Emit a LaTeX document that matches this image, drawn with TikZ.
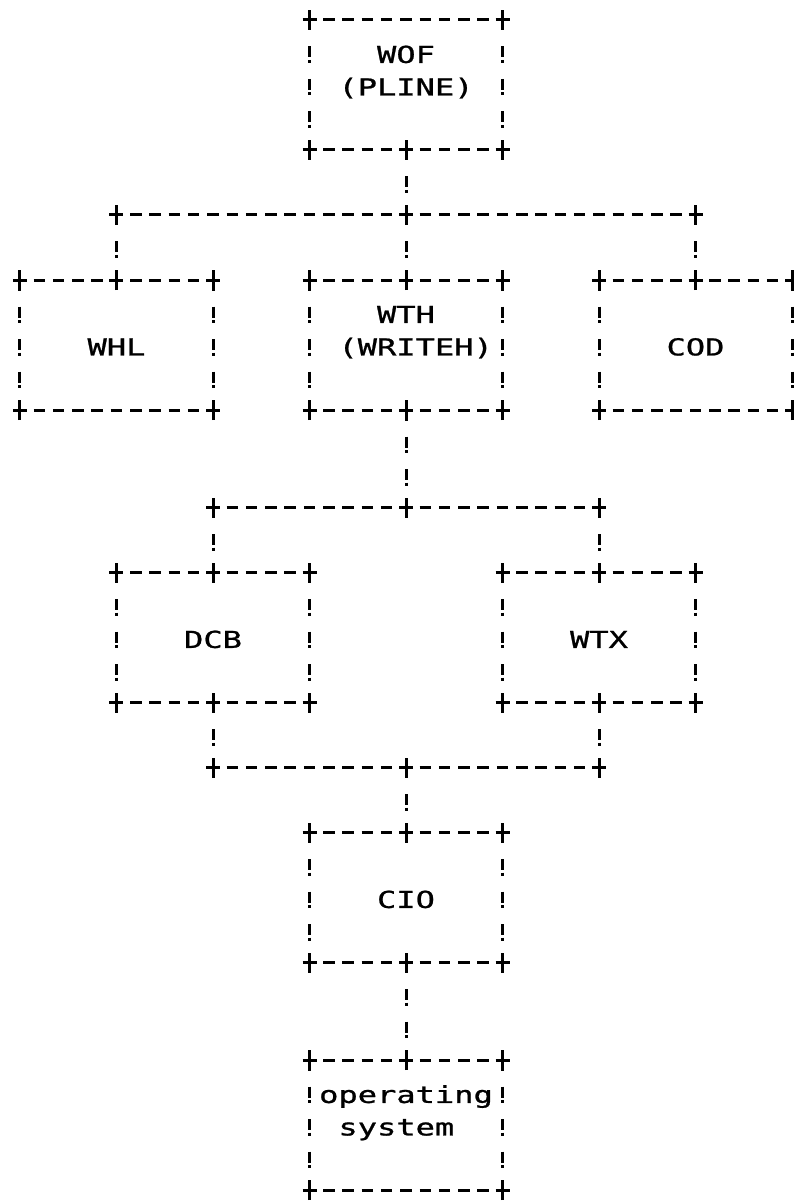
\documentclass[tikz,border=0pt]{standalone}
\usepackage{fontspec}
\newfontfamily\asciimono[FakeStretch=1.376, FakeBold=1]{DejaVu Sans Mono}
\tikzset{
  box/.style={rectangle, minimum width=193pt, minimum height=130pt, inner sep=0pt, outer sep=0pt, draw=none},
  hl/.style={line width=3pt, line cap=butt, dash pattern=on 11.5pt off 7.8pt, dash phase=5.75pt},
  vl/.style={line width=3pt, line cap=butt, dash pattern=on 11pt off 2.5pt on 3pt off 16pt, dash phase=6pt},
  pl/.style={line width=3pt, line cap=butt},
  lbl/.style={anchor=base west, inner sep=0pt, outer sep=0pt, font=\asciimono\fontsize{23.3pt}{30pt}\selectfont},
}
\newcommand\pmark[1]{\draw[pl] ([xshift=-7pt]#1) -- ([xshift=7pt]#1) ([yshift=-10pt]#1) -- ([yshift=10pt]#1);}
\newcommand\abox[1]{%
  \draw[hl] (#1.north west) -- (#1.north east);
  \draw[hl] (#1.south west) -- (#1.south east);
  \draw[vl] (#1.north west) -- (#1.south west);
  \draw[vl] (#1.north east) -- (#1.south east);
  \pmark{#1.north west}\pmark{#1.north east}\pmark{#1.south west}\pmark{#1.south east}}
\begin{document}
\begin{tikzpicture}[x=19.3pt, y=-32.5pt]
\useasboundingbox (-1.036,-0.615) rectangle (40.052,36.338);
% boxes
\node[box] (wof) at (20,2) {};
\node[box] (whl) at (5,10) {};
\node[box] (wth) at (20,10) {};
\node[box] (cod) at (35,10) {};
\node[box] (dcb) at (10,19) {};
\node[box] (wtx) at (30,19) {};
\node[box] (cio) at (20,27) {};
\node[box] (os)  at (20,34) {};
\abox{wof}\abox{whl}\abox{wth}\abox{cod}\abox{dcb}\abox{wtx}\abox{cio}\abox{os}
% labels
\node[lbl] (wof1) at (18.5,1.32) {WOF};
\node[lbl] (wof2) at (16.5,2.32) {(PLINE)};
\node[lbl] (whl1) at (3.5,10.32) {WHL};
\node[lbl] (wth1) at (18.5,9.32) {WTH};
\node[lbl] (wth2) at (16.5,10.32) {(WRITEH)};
\node[lbl] (cod1) at (33.5,10.32) {COD};
\node[lbl] (dcb1) at (8.5,19.32) {DCB};
\node[lbl] (wtx1) at (28.5,19.32) {WTX};
\node[lbl] (cio1) at (18.5,27.32) {CIO};
\node[lbl] (os1) at (15.5,33.32) {operating};
\node[lbl] (os2) at (16.5,34.32) {system};
% bus 1
\coordinate (b1) at (20,6);
\coordinate (b1w) at (5,6);
\coordinate (b1e) at (35,6);
\draw[vl] (wof.south) -- (b1);
\draw[hl] (b1w) -- (b1e);
\draw[vl] (b1w) -- (whl.north);
\draw[vl] (b1) -- (wth.north);
\draw[vl] (b1e) -- (cod.north);
\pmark{wof.south}\pmark{b1}\pmark{b1w}\pmark{b1e}
\pmark{whl.north}\pmark{wth.north}\pmark{cod.north}
% bus 2
\coordinate (b2) at (20,15);
\coordinate (b2w) at (10,15);
\coordinate (b2e) at (30,15);
\draw[vl] (wth.south) -- (b2);
\draw[hl] (b2w) -- (b2e);
\draw[vl] (b2w) -- (dcb.north);
\draw[vl] (b2e) -- (wtx.north);
\pmark{wth.south}\pmark{b2}\pmark{b2w}\pmark{b2e}
\pmark{dcb.north}\pmark{wtx.north}
% bus 3
\coordinate (b3) at (20,23);
\coordinate (b3w) at (10,23);
\coordinate (b3e) at (30,23);
\draw[vl] (dcb.south) -- (b3w);
\draw[vl] (wtx.south) -- (b3e);
\draw[hl] (b3w) -- (b3e);
\draw[vl] (b3) -- (cio.north);
\pmark{dcb.south}\pmark{wtx.south}\pmark{b3}\pmark{b3w}\pmark{b3e}\pmark{cio.north}
% cio to os
\draw[vl] (cio.south) -- (os.north);
\pmark{cio.south}\pmark{os.north}
\end{tikzpicture}
\end{document}
